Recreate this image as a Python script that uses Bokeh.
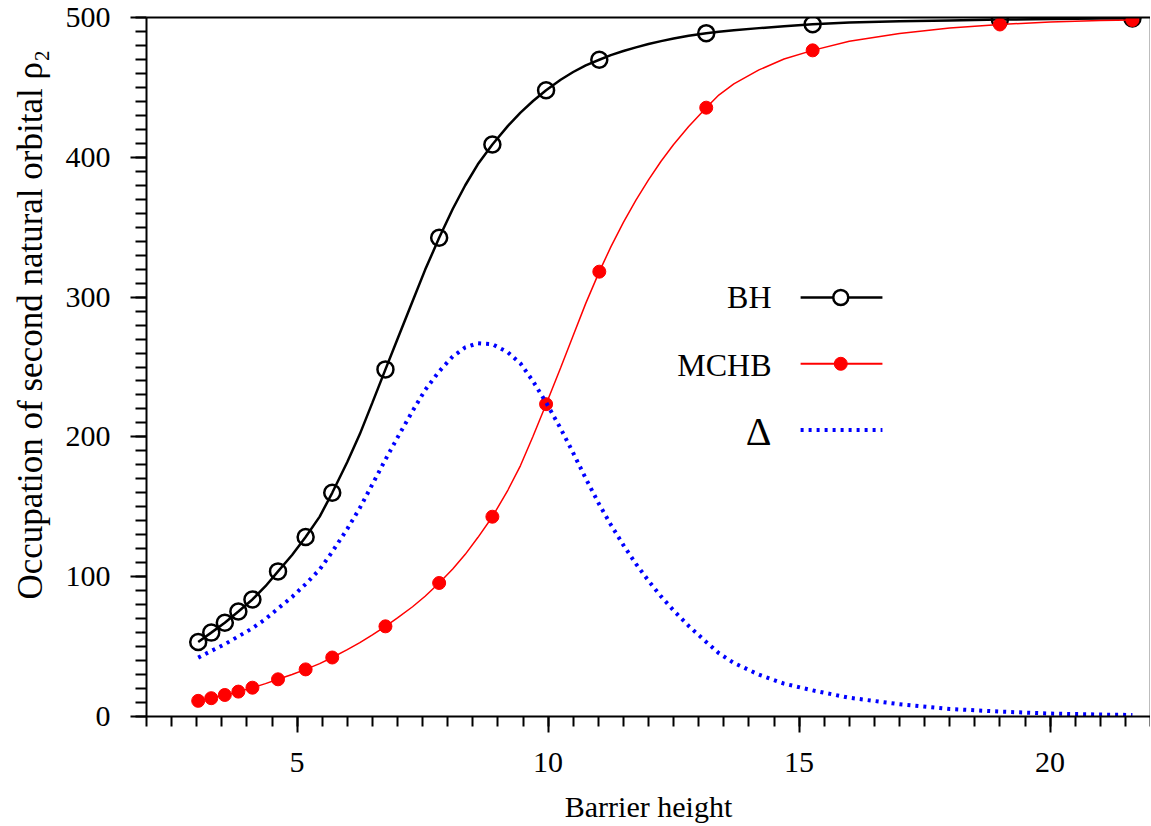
from bokeh.plotting import figure
from bokeh.models import (LinearAxis, SingleIntervalTicker, FixedTicker, Label, Range1d, Title)
from bokeh.embed import file_html
from bokeh.resources import INLINE

# ---- data ----
# marker positions (barrier height) and values
pts_x = [3.03, 3.29, 3.56, 3.83, 4.11, 4.62, 5.17, 5.70, 6.76, 7.83, 8.89, 9.96,
         11.02, 13.15, 15.27, 19.0, 21.64]
bh_pts = [53.3, 60.0, 67.1, 75.1, 83.7, 103.8, 128.4, 160.0, 248.3, 342.4, 409.2,
          448.0, 469.8, 488.8, 495.2, 498.5, 499.3]
mchb_pts = [11.2, 13.1, 15.4, 17.8, 20.6, 26.6, 33.7, 42.2, 64.5, 95.5, 142.9,
            223.4, 318.2, 435.5, 476.5, 495.0, 498.2]

# smooth curves
curve_x = [3.03, 3.29, 3.56, 3.83, 4.11, 4.37, 4.62, 4.9, 5.17, 5.45,
           5.70, 6.0, 6.25, 6.5, 6.76, 7.0, 7.3, 7.55, 7.83, 8.1,
           8.35, 8.6, 8.89, 9.2, 9.45, 9.7, 9.96, 10.25, 10.5, 10.75,
           11.02, 11.25, 11.5, 11.75, 12.0, 12.25, 12.5, 12.8, 13.15, 13.4,
           13.7, 14.2, 14.7, 15.27, 16.0, 17.0, 18.0, 19.0, 20.0, 21.0, 21.64]
bh_curve = [53.3, 60.0, 67.1, 75.1, 83.7, 93.2, 103.8, 115.5, 128.4, 143.0,
            160.0, 182.0, 202.0, 224.5, 248.3, 270.0, 297.0, 319.5, 342.4, 363.0,
            380.0, 395.0, 409.2, 422.5, 432.0, 440.3, 448.0, 455.5, 461.0, 465.8,
            469.8, 473.1, 476.0, 478.6, 481.0, 483.1, 485.0, 486.9, 488.8, 489.8,
            490.8, 492.4, 493.8, 495.2, 496.4, 497.3, 497.9, 498.5, 498.9, 499.2, 499.3]
mchb_curve = [11.2, 13.1, 15.4, 17.8, 20.6, 23.5, 26.6, 30.0, 33.7, 37.8,
              42.2, 47.8, 52.8, 58.4, 64.5, 70.5, 78.5, 86.0, 95.5, 105.5,
              116.0, 128.0, 142.9, 162.0, 179.5, 200.5, 223.4, 249.5, 272.5, 295.5,
              318.2, 335.9, 353.4, 369.4, 383.9, 397.2, 409.2, 422.1, 435.5, 444.5,
              452.5, 462.5, 470.3, 476.5, 483.0, 488.5, 492.5, 495.0, 496.8, 497.8, 498.2]
delta_curve = [42.1, 46.9, 51.7, 57.3, 63.1, 69.7, 77.2, 85.5, 94.7, 105.2,
               117.8, 134.2, 149.2, 166.1, 183.8, 199.5, 218.5, 233.5, 246.9, 257.5,
               264.0, 267.0, 266.3, 260.5, 252.5, 239.8, 224.6, 206.0, 188.5, 170.3,
               151.6, 137.2, 122.6, 109.2, 97.1, 85.9, 75.8, 64.8, 53.3, 45.3,
               38.3, 29.9, 23.5, 18.7, 13.4, 8.8, 5.4, 3.5, 2.1, 1.4, 1.1]

series_names = ["BH", "MCHB", "\u0394"]
x_label = "Barrier height"
y_label = "Occupation of second natural orbital \u03c1\u2082"

FONT = "Liberation Serif"

p = figure(frame_width=1004, frame_height=699,
           x_range=Range1d(2, 22), y_range=Range1d(0, 500),
           output_backend="svg", toolbar_location=None,
           min_border_left=146, min_border_right=0, min_border_top=17,
           min_border_bottom=0)
p.xgrid.visible = False
p.ygrid.visible = False
p.outline_line_color = "#bdbdbd"
p.outline_line_width = 1
p.background_fill_color = "white"
p.border_fill_color = "white"

p.xaxis.ticker = SingleIntervalTicker(interval=5, num_minor_ticks=10)
p.yaxis.ticker = SingleIntervalTicker(interval=100, num_minor_ticks=10)

for ax in (p.xaxis[0], p.yaxis[0]):
    ax.axis_line_width = 2
    ax.axis_line_color = "black"
    ax.major_tick_line_width = 2
    ax.minor_tick_line_width = 2
    ax.major_tick_line_color = "black"
    ax.minor_tick_line_color = "black"
    ax.major_tick_in = 0
    ax.minor_tick_in = 0
    ax.major_tick_out = 16
    ax.major_label_text_font = FONT
    ax.major_label_text_font_size = "30px"
    ax.major_label_text_color = "black"
    ax.axis_label_text_font = FONT
    ax.axis_label_text_font_size = "30px"
    ax.axis_label_text_font_style = "normal"
    ax.axis_label_text_color = "black"

p.xaxis.minor_tick_out = 10
p.yaxis.minor_tick_out = 11
p.xaxis.major_label_standoff = 20
p.yaxis.major_label_standoff = 20
p.xaxis.axis_label = x_label
p.xaxis.axis_label_standoff = 15

top = LinearAxis(ticker=FixedTicker(ticks=[]), axis_line_width=2,
                 axis_line_color="black", major_tick_out=0, minor_tick_out=0,
                 major_tick_in=0, minor_tick_in=0,
                 major_label_text_font_size="0px", major_label_standoff=0)
p.add_layout(top, "above")

# y-axis title as a side title (reads bottom to top)
ykw = dict(text=y_label, align="left", offset=117, text_font=FONT,
           text_font_size="35px", text_font_style="normal", text_color="black",
           vertical_align="top")
if "standoff" in Title.properties():
    ykw["standoff"] = 21
p.add_layout(Title(**ykw), "left")

# curves and markers
p.line(curve_x, bh_curve, line_color="black", line_width=2.5)
p.scatter(pts_x, bh_pts, marker="circle", size=16, line_color="black",
          line_width=2.5, fill_alpha=0)
p.line(curve_x, mchb_curve, line_color="red", line_width=1.5)
p.scatter(pts_x, mchb_pts, marker="circle", size=13, line_color="red",
          fill_color="red")
p.line(curve_x, delta_curve, line_color="blue", line_width=4,
       line_dash="3 5", line_cap="butt")

# legend (label on the left, sample on the right)
leg_text_x = 14.45
leg_x0, leg_x1, leg_xm = 15.03, 16.66, 15.83
leg_row_y = [299.7, 252.3, 205.0]
leg_base_y = [299.9, 251.6, 204.0]
leg_sizes = ["32px", "32px", "40px"]
for name, by, fs in zip(series_names, leg_base_y, leg_sizes):
    p.add_layout(Label(x=leg_text_x, y=by, text=name, text_align="right",
                       text_baseline="alphabetic", text_font=FONT,
                       text_font_size=fs, text_color="black"))
p.segment(x0=[leg_x0], y0=[leg_row_y[0]], x1=[leg_x1], y1=[leg_row_y[0]],
          line_color="black", line_width=2.5)
p.scatter([leg_xm], [leg_row_y[0]], marker="circle", size=15, line_color="black",
          line_width=2.5, fill_color="white")
p.segment(x0=[leg_x0], y0=[leg_row_y[1]], x1=[leg_x1], y1=[leg_row_y[1]],
          line_color="red", line_width=2)
p.scatter([leg_xm], [leg_row_y[1]], marker="circle", size=13, line_color="red",
          fill_color="red")
p.segment(x0=[leg_x0], y0=[leg_row_y[2]], x1=[leg_x1], y1=[leg_row_y[2]],
          line_color="blue", line_width=4, line_dash="3 5", line_cap="butt")

open("out.html", "w").write(file_html(p, INLINE))
